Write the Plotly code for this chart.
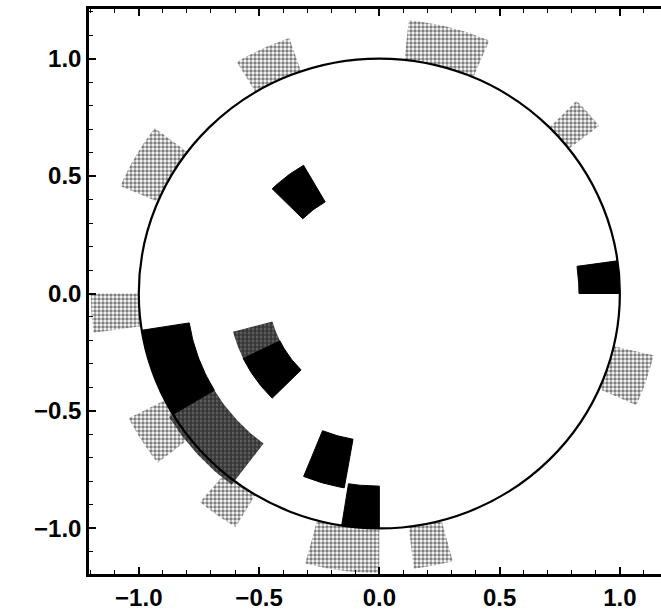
import numpy as np
import plotly.graph_objects as go

# ---- data: polar-rectangle patches (radius range, angle range in degrees) ----
# solid black patches
solid_r_in = [0.45, 0.83, 0.80, 0.46, 0.63, 0.82]
solid_r_out = [0.63, 1.00, 1.00, 0.63, 0.84, 1.00]
solid_th_start = [120, 0, 189, 206, 248, 261]
solid_th_end = [135, 8, 211, 225, 260, 270]

# densely speckled patches (inside circle)
dense_r_in = [0.80, 0.46]
dense_r_out = [1.02, 0.63]
dense_th_start = [211, 195]
dense_th_end = [233, 206]

# sparsely speckled patches (outside circle)
sparse_r_in = [1.00, 1.00, 1.00, 1.00, 1.00, 1.00, 1.00, 1.00, 1.00, 1.00]
sparse_r_out = [1.15, 1.17, 1.16, 1.17, 1.20, 1.17, 1.16, 1.19, 1.18, 1.17]
sparse_th_start = [109, 67, 38, 143, 180, 207, 230, 255, 277, 336]
sparse_th_end = [121, 84, 45, 157, 188, 218, 239, 270, 285, 347]

tick_vals = [-1.0, -0.5, 0.0, 0.5, 1.0]
tick_text = ["\u22121.0", "\u22120.5", "0.0", "0.5", "1.0"]


def sector(r1, r2, t1, t2, n=24):
    th_out = np.radians(np.linspace(t1, t2, n))
    th_in = th_out[::-1]
    xs = np.concatenate([r2 * np.cos(th_out), r1 * np.cos(th_in), [r2 * np.cos(th_out[0])]])
    ys = np.concatenate([r2 * np.sin(th_out), r1 * np.sin(th_in), [r2 * np.sin(th_out[0])]])
    return xs, ys


fig = go.Figure()

for r1, r2, t1, t2 in zip(sparse_r_in, sparse_r_out, sparse_th_start, sparse_th_end):
    xs, ys = sector(r1, r2, t1, t2)
    fig.add_trace(go.Scatter(
        x=xs, y=ys, mode="lines", fill="toself", line=dict(width=0, color="rgba(0,0,0,0)"),
        fillcolor="rgba(0,0,0,0)",
        fillpattern=dict(shape=".", fgcolor="black", bgcolor="white", size=4, solidity=0.6),
        hoverinfo="skip", showlegend=False))

for r1, r2, t1, t2 in zip(dense_r_in, dense_r_out, dense_th_start, dense_th_end):
    xs, ys = sector(r1, r2, t1, t2)
    fig.add_trace(go.Scatter(
        x=xs, y=ys, mode="lines", fill="toself", line=dict(width=0, color="rgba(0,0,0,0)"),
        fillcolor="rgba(0,0,0,0)",
        fillpattern=dict(shape=".", fgcolor="black", bgcolor="#6a6a6a", size=4, solidity=0.7),
        hoverinfo="skip", showlegend=False))

for r1, r2, t1, t2 in zip(solid_r_in, solid_r_out, solid_th_start, solid_th_end):
    xs, ys = sector(r1, r2, t1, t2)
    fig.add_trace(go.Scatter(
        x=xs, y=ys, mode="lines", fill="toself", line=dict(width=1, color="black"),
        fillcolor="black", hoverinfo="skip", showlegend=False))

fig.add_shape(type="circle", x0=-1, y0=-1, x1=1, y1=1, xref="x", yref="y",
              line=dict(color="black", width=2.2), layer="above")

tickfont = dict(family="Liberation Sans", size=24, color="black", weight="bold")

fig.update_xaxes(
    range=[-1.207, 1.171], showgrid=False, zeroline=False,
    showline=True, linecolor="black", linewidth=2.5, mirror="allticks",
    ticks="inside", ticklen=7, tickwidth=1.5, tickcolor="black",
    tickvals=tick_vals, ticktext=tick_text, tickfont=tickfont,
    minor=dict(dtick=0.1, tick0=0, ticks="inside", ticklen=4, tickwidth=1.2, tickcolor="black"),
)
fig.update_yaxes(
    range=[-1.194, 1.211], showgrid=False, zeroline=False,
    showline=True, linecolor="black", linewidth=2.5, mirror=False,
    ticks="inside", ticklen=7, tickwidth=1.5, tickcolor="black",
    tickvals=tick_vals, ticktext=tick_text, tickfont=tickfont,
    minor=dict(dtick=0.1, tick0=0, ticks="inside", ticklen=4, tickwidth=1.2, tickcolor="black"),
)

fig.update_layout(
    width=661, height=611,
    margin=dict(l=89, r=0, t=9, b=32),
    paper_bgcolor="white", plot_bgcolor="white",
    showlegend=False,
)

fig.write_html("out.html")
